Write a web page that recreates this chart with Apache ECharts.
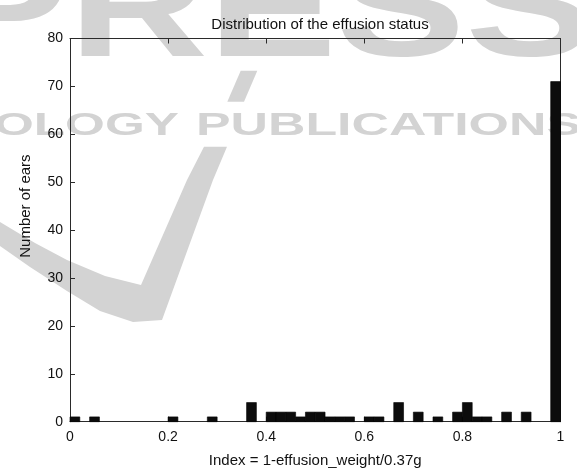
<!DOCTYPE html>
<html>
<head>
<meta charset="utf-8">
<script src="https://cdn.jsdelivr.net/npm/echarts@6/dist/echarts.min.js"></script>
<style>
html,body{margin:0;padding:0;background:#fff;}
#chart{width:577px;height:468px;}
</style>
</head>
<body>
<div id="chart"></div>
<script>
// ---- data ----
const titleText = 'Distribution of the effusion status';
const xName = 'Index = 1-effusion_weight/0.37g';
const yName = 'Number of ears';
const binMin = 0;
const binWidth = 0.02;
// counts per bin (50 bins from 0 to 1)
const counts = [1,0,1,0,0,0,0,0,0,0,
                1,0,0,0,1,0,0,0,4,0,
                2,2,2,1,2,2,1,1,1,0,
                1,1,0,4,0,2,0,1,0,2,
                4,1,1,0,2,0,2,0,0,71];
const xTicks = [0, 0.2, 0.4, 0.6, 0.8, 1];
const yTicks = [0, 10, 20, 30, 40, 50, 60, 70, 80];

const histData = counts.map((c, i) => [binMin + i * binWidth, binMin + (i + 1) * binWidth, c]);

const FONT = 'Liberation Sans, Arial, Helvetica, sans-serif';
const TXT = '#111';
const AX = '#2a2a2a';
const WM = '#d3d3d3';

const chart = echarts.init(document.getElementById('chart'), null, {renderer: 'canvas'});

function axisCommon(show) {
  return {
    axisLine: {show: true, onZero: false, lineStyle: {color: AX, width: 1}},
    axisTick: {show: true, inside: true, length: 5, lineStyle: {color: AX}},
    splitLine: {show: false},
    axisLabel: {show: show, color: TXT, fontFamily: FONT, fontSize: 14}
  };
}

const option = {
  animation: false,
  backgroundColor: '#fff',
  title: {
    text: titleText,
    left: 315, top: 12, textAlign: 'center',
    textStyle: {fontFamily: FONT, fontSize: 15, fontWeight: 'normal', color: TXT}
  },
  grid: {left: 70, right: 16.5, top: 38.5, bottom: 46.3, containLabel: false, outerBoundsMode: 'none'},
  graphic: {
    elements: [
      {type: 'text', z: -10, silent: true, x: -60, y: -56, scaleX: 1.33,
        style: {text: 'PRESS', font: 'bold 145px ' + FONT, fill: WM}},
      {type: 'text', z: -10, silent: true, x: -6, y: 110.5, scaleX: 1.6,
        style: {text: 'OLOGY', font: 'bold 32px ' + FONT, fill: WM}},
      {type: 'text', z: -10, silent: true, x: 196, y: 110.5, scaleX: 1.62,
        style: {text: 'PUBLICATIONS', font: 'bold 32px ' + FONT, fill: WM}},
      {type: 'polygon', z: -10, silent: true,
        shape: {points: [[240.7,70.7],[257.3,70.7],[244,101.7],[227.3,101.7]]},
        style: {fill: WM}},
      {type: 'polygon', z: -10, silent: true,
        shape: {points: [[204,146.7],[227,146.7],[213,180],[162,320],[133,322],[100,311],[67,291],[30,267],[0,246],[0,222],[35,243],[67,260],[105,276],[141,285],[187,180]]},
        style: {fill: WM}}
    ]
  },
  xAxis: [
    Object.assign({
      type: 'value', min: 0, max: 1, interval: 0.2, position: 'bottom',
      name: xName, nameLocation: 'middle', nameGap: 32,
      nameTextStyle: {fontFamily: FONT, fontSize: 15, color: TXT},
    }, axisCommon(true), {axisLabel: {show: true, color: TXT, fontFamily: FONT, fontSize: 14, margin: 8,
      formatter: v => String(xTicks.find(t => Math.abs(t - v) < 1e-9) ?? v)}}),
    Object.assign({type: 'value', min: 0, max: 1, interval: 0.2, position: 'top'}, axisCommon(false))
  ],
  yAxis: [
    Object.assign({
      type: 'value', min: 0, max: 80, interval: 10, position: 'left',
      name: yName, nameLocation: 'middle', nameGap: 37, nameRotate: 90,
      nameTextStyle: {fontFamily: FONT, fontSize: 15, color: TXT, padding: [0, 0, 0, 48]},
    }, axisCommon(true), {axisLabel: {show: true, color: TXT, fontFamily: FONT, fontSize: 14, margin: 7,
      formatter: v => String(yTicks.find(t => t === v) ?? v)}}),
    Object.assign({type: 'value', min: 0, max: 80, interval: 10, position: 'right'}, axisCommon(false))
  ],
  series: [{
    type: 'custom',
    xAxisIndex: 0, yAxisIndex: 0,
    data: histData,
    encode: {x: [0, 1], y: 2},
    renderItem: function (params, api) {
      const h = api.value(2);
      if (!h) return null;
      const p0 = api.coord([api.value(0), 0]);
      const p1 = api.coord([api.value(1), h]);
      return {
        type: 'rect',
        shape: {x: p0[0], y: p1[1], width: p1[0] - p0[0], height: p0[1] - p1[1]},
        style: {fill: '#0c0c0c', stroke: '#000', lineWidth: 0.6}
      };
    }
  }]
};
chart.setOption(option);
</script>
</body>
</html>
